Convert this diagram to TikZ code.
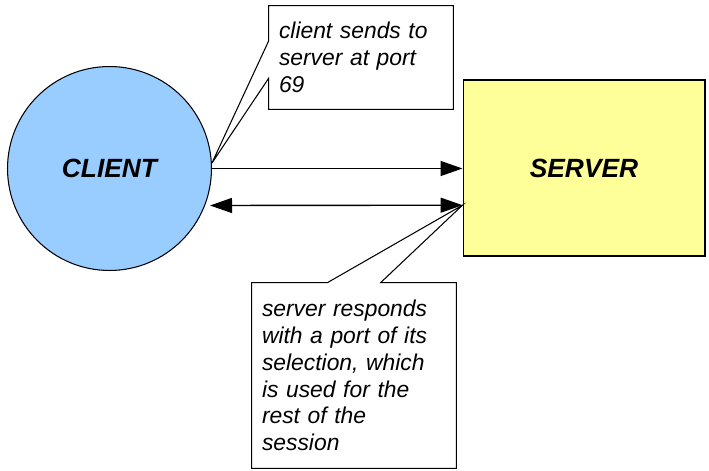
\documentclass[tikz,border=0pt]{standalone}
\usepackage{fontspec}
\setmainfont{Liberation Sans}
\usetikzlibrary{positioning,arrows.meta,calc}
\definecolor{clientblue}{HTML}{99CCFF}
\definecolor{serveryellow}{HTML}{FFFF99}

\begin{document}
\begin{tikzpicture}[
  x=0.02cm, y=-0.02cm,
  host/.style={draw=black, line width=0.6pt,
    font=\bfseries\itshape\fontsize{15}{18}\selectfont},
  note/.style={align=left, inner sep=0.2cm,
    font=\itshape\fontsize{13}{15.3}\selectfont},
  noteline/.style={draw=black, line width=0.6pt},
  arr/.style={-{Triangle[length=0.44cm, width=0.3cm]}, line width=0.8pt},
  arrboth/.style={{Triangle[length=0.44cm, width=0.3cm]}-{Triangle[length=0.44cm, width=0.3cm]}, line width=0.8pt}
]
\useasboundingbox (0,0) rectangle (709,470);

\node[host, circle, fill=clientblue, minimum size=4.08cm] (client) at (109.5,168.5) {CLIENT};
\node[host, rectangle, fill=serveryellow, minimum width=4.84cm, minimum height=3.52cm] (server) at (584,168) {SERVER};

% the two messages
\coordinate (cback) at ($(client.east)+(-2,37)$);
\coordinate (sback) at ($(server.north west)!0.71!(server.south west)$);
\draw[arr] (client.east) -- (client.east -| server.west);
\draw[arrboth] (cback) -- (sback);

% callouts
\node[note, text width=3.28cm, minimum height=2.06cm] (sendnote) at (361,57.5)
  {client sends to\\ server at port\\ 69};
\node[note, text width=3.68cm, minimum height=3.7cm] (replynote) at (354,375.5)
  {server responds\\ with a port of its\\ selection, which\\ is used for the\\ rest of the\\ session};

\draw[noteline] (sendnote.north west) -- (sendnote.north east) -- (sendnote.south east)
  -- (sendnote.south west) -- ($(sendnote.north west)!0.70!(sendnote.south west)$)
  -- (client.3) -- ($(sendnote.north west)!0.34!(sendnote.south west)$) -- cycle;
\draw[noteline] (replynote.north west) -- ($(replynote.north west)!0.37!(replynote.north east)$)
  -- (sback) -- ($(replynote.north west)!0.63!(replynote.north east)$)
  -- (replynote.north east) -- (replynote.south east) -- (replynote.south west) -- cycle;
\end{tikzpicture}
\end{document}
